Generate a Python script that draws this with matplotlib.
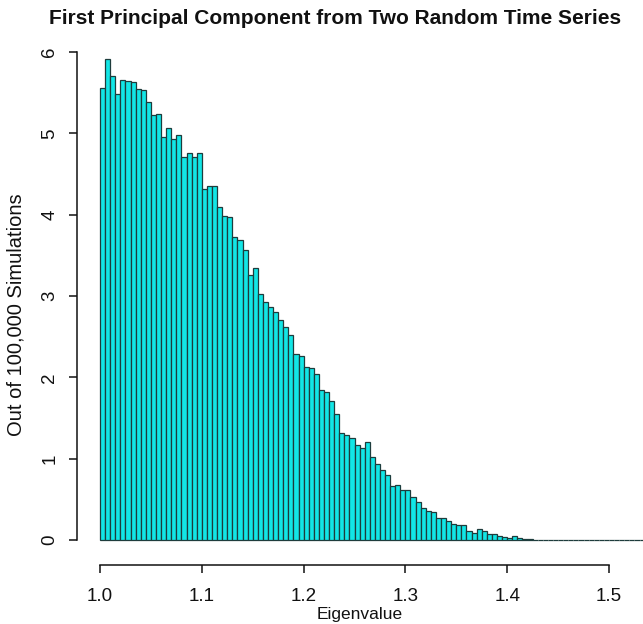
import matplotlib
matplotlib.use('Agg')
import matplotlib.pyplot as plt
import numpy as np

plt.rcParams['font.family'] = ['Liberation Sans', 'DejaVu Sans']

# histogram of the first eigenvalue (density scale), bins of width 0.005 starting at 1.0
bin_start = 1.0
bin_width = 0.005
density = [
    5.56, 5.92, 5.70, 5.49, 5.66, 5.64, 5.63, 5.54, 5.53, 5.38,
    5.22, 5.24, 4.95, 5.06, 4.93, 4.98, 4.71, 4.76, 4.71, 4.76,
    4.31, 4.35, 4.35, 4.10, 3.99, 3.97, 3.72, 3.69, 3.56, 3.26,
    3.35, 3.02, 2.93, 2.87, 2.80, 2.70, 2.62, 2.52, 2.29, 2.26,
    2.13, 2.11, 2.04, 1.85, 1.82, 1.71, 1.55, 1.32, 1.29, 1.25,
    1.17, 1.13, 1.21, 1.02, 0.93, 0.86, 0.80, 0.66, 0.68, 0.61,
    0.62, 0.53, 0.47, 0.39, 0.36, 0.34, 0.27, 0.27, 0.23, 0.20,
    0.18, 0.18, 0.11, 0.09, 0.13, 0.11, 0.08, 0.07, 0.05, 0.04,
    0.02, 0.05, 0.02, 0.01, 0.01, 0.005, 0.005, 0.0, 0.0, 0.0,
    0.0, 0.0, 0.0, 0.0, 0.0, 0.0, 0.0, 0.0, 0.0, 0.0,
    0.0, 0.0, 0.0, 0.0, 0.0, 0.0, 0.0,
]
x_ticks = [1.0, 1.1, 1.2, 1.3, 1.4, 1.5]
x_tick_labels = ['1.0', '1.1', '1.2', '1.3', '1.4', '1.5']
y_ticks = [0, 1, 2, 3, 4, 5, 6]

title = 'First Principal Component from Two Random Time Series'
xlabel = 'Eigenvalue'
ylabel = 'Out of 100,000 Simulations'


def main():
    W, H = 643, 624
    fig = plt.figure(figsize=(W / 100, H / 100), dpi=100)
    # plot region in pixels: left 77, right 643, top 32.5, bottom 565
    ax = fig.add_axes([77 / W, (H - 565) / H, (643 - 77) / W, (565 - 32.5) / H])

    lefts = bin_start + bin_width * np.arange(len(density))
    ax.bar(lefts, density, width=bin_width, align='edge',
           color='#12E6E6', edgecolor='#1E3C3C', linewidth=0.9)

    ax.set_xlim(0.9774, 1.5334)
    ax.set_ylim(-0.307, 6.24)

    for side in ('top', 'right'):
        ax.spines[side].set_visible(False)
    ax.spines['bottom'].set_bounds(x_ticks[0], x_ticks[-1])
    ax.spines['left'].set_bounds(y_ticks[0], y_ticks[-1])
    for side in ('bottom', 'left'):
        ax.spines[side].set_linewidth(1.1)
        ax.spines[side].set_color('#111111')

    ax.set_xticks(x_ticks)
    ax.set_xticklabels(x_tick_labels)
    ax.set_yticks(y_ticks)
    ax.set_yticklabels([str(v) for v in y_ticks], rotation=90, va='center')
    ax.tick_params(axis='both', length=5.5, width=1.1, color='#111111',
                   labelsize=13.5, labelcolor='#111111')
    ax.tick_params(axis='x', pad=11)
    ax.tick_params(axis='y', pad=8)

    ax.set_xlabel(xlabel, fontsize=12.5, color='#111111', va='center')
    ax.xaxis.set_label_coords(0.5, (565 - 614) / 532.5)
    ax.set_ylabel(ylabel, fontsize=14.5, color='#111111', va='center')
    ax.yaxis.set_label_coords((16 - 77) / 566, (565 - 315) / 532.5)
    fig.text(335 / W, 1 - 19 / H, title, ha='center', va='center',
             fontsize=15, fontweight='bold', color='#111111')

    fig.savefig('out.png', dpi=100)


if __name__ == "__main__":
    main()
